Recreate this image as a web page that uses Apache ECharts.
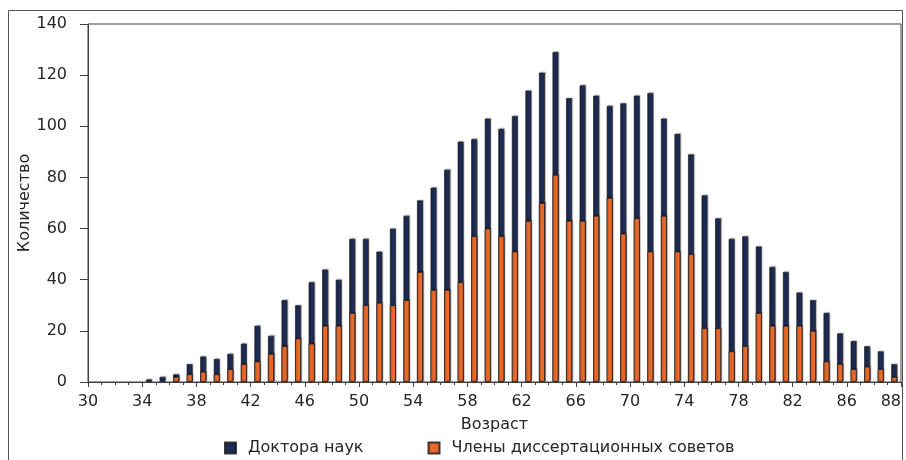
<!DOCTYPE html>
<html>
<head>
<meta charset="utf-8">
<script src="https://cdn.jsdelivr.net/npm/echarts@6/dist/echarts.min.js"></script>
<style>
html,body{margin:0;padding:0;background:#fff;}
#chart{width:906px;height:460px;}
</style>
</head>
<body>
<div id="chart"></div>
<script>
// Age slots (each bar spans one year starting at the given age)
var ages = [30,31,32,33,34,35,36,37,38,39,40,41,42,43,44,45,46,47,48,49,
            50,51,52,53,54,55,56,57,58,59,60,61,62,63,64,65,66,67,68,69,
            70,71,72,73,74,75,76,77,78,79,80,81,82,83,84,85,86,87,88,89];
var doctors = [0,0,0,0,1,2,3,7,10,9,11,15,22,18,32,30,39,44,40,56,
               56,51,60,65,71,76,83,94,95,103,99,104,114,121,129,111,116,112,108,109,
               112,113,103,97,89,73,64,56,57,53,45,43,35,32,27,19,16,14,12,7];
var council = [0,0,0,0,0,0,2,3,4,3,5,7,8,11,14,17,15,22,22,27,
               30,31,30,32,43,36,36,39,57,60,57,51,63,70,81,63,63,65,72,58,
               64,51,65,51,50,21,21,12,14,27,22,22,22,20,8,7,5,6,5,2];
var xTickLabels = ['30','34','38','42','46','50','54','58','62','66','70','74','78','82','86','88'];
var yTicks = [0,20,40,60,80,100,120,140];
var seriesNames = ['Доктора наук','Члены диссертационных советов'];

var FONT = '"DejaVu Sans", sans-serif';
var FS = 16;
var TXT = '#262626';
var AX = '#404040';

function bars(arr){ return arr.map(function(v){ return v === 0 ? '-' : v; }); }

var chart = echarts.init(document.getElementById('chart'), null, {renderer:'canvas'});
var barBorder = {borderColor:'rgba(30,30,30,0.85)', borderWidth:0.8,
                 shadowColor:'rgba(0,0,0,0.25)', shadowBlur:1, shadowOffsetX:1, shadowOffsetY:-1};
chart.setOption({
  animation:false,
  textStyle:{fontFamily:FONT},
  graphic:[{type:'rect', shape:{x:8.5, y:10.5, width:894, height:470},
            style:{fill:'none', stroke:'#555', lineWidth:1}, silent:true, z:-1}],
  grid:{left:88, right:5, top:24, bottom:78, show:true, borderColor:AX, borderWidth:1},
  legend:{
    bottom:-1, left:219, itemWidth:11, itemHeight:11, itemGap:64, icon:'rect',
    textStyle:{fontSize:FS, color:TXT, fontFamily:FONT, padding:[0,0,0,7]},
    data:seriesNames
  },
  xAxis:[
    {type:'category', data:ages, boundaryGap:true, show:false},
    {type:'value', min:30, max:90, interval:4, position:'bottom',
     name:'Возраст', nameLocation:'middle', nameGap:35, nameMoveOverlap:false,
     nameTextStyle:{fontSize:FS, color:TXT, fontFamily:FONT},
     axisLine:{show:true, lineStyle:{color:AX, width:1}},
     axisTick:{show:true, length:5, lineStyle:{color:AX}},
     minorTick:{show:true, splitNumber:4, length:3, lineStyle:{color:AX}},
     splitLine:{show:false},
     axisLabel:{fontSize:FS, color:TXT, margin:12, fontFamily:FONT, alignMaxLabel:'right',
       formatter:function(v){ var i=Math.round((v-30)/4); return xTickLabels[i]!==undefined?xTickLabels[i]:''; }}
    }
  ],
  yAxis:{
    type:'value', min:yTicks[0], max:yTicks[yTicks.length-1], interval:20,
    name:'Количество', nameLocation:'middle', nameGap:55, nameRotate:90, nameMoveOverlap:false,
    nameTextStyle:{fontSize:FS, color:TXT, fontFamily:FONT},
    axisLine:{show:true, lineStyle:{color:AX, width:1}},
    axisTick:{show:true, inside:false, length:8, lineStyle:{color:AX}},
    splitLine:{show:false},
    axisLabel:{fontSize:FS, color:TXT, margin:21, fontFamily:FONT}
  },
  series:[
    {name:seriesNames[0], type:'bar', xAxisIndex:0, data:bars(doctors), barWidth:6, barGap:'-100%',
     itemStyle:Object.assign({color:'#1d2b55'}, barBorder)},
    {name:seriesNames[1], type:'bar', xAxisIndex:0, data:bars(council), barWidth:6, barGap:'-100%',
     itemStyle:Object.assign({color:'#e8692a'}, barBorder)}
  ]
});
</script>
</body>
</html>
